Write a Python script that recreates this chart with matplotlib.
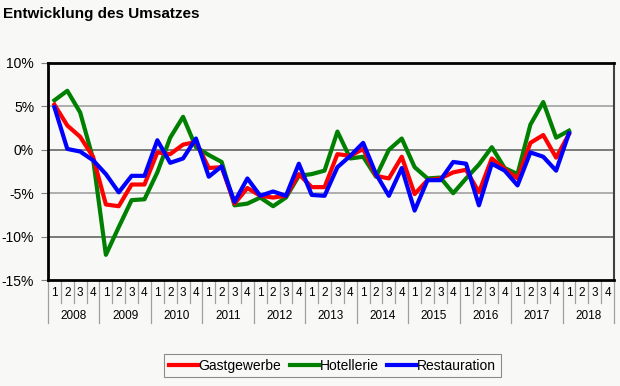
import matplotlib
matplotlib.use('Agg')  # no display
import matplotlib.pyplot as plt

plt.rcParams['font.family'] = ['Liberation Sans', 'DejaVu Sans']

# data: quarterly change in %, 2008Q1 .. 2018Q1
years = ['2008', '2009', '2010', '2011', '2012', '2013', '2014', '2015', '2016', '2017', '2018']
quarters = ['1', '2', '3', '4']

gastgewerbe = [5.2, 2.8, 1.5, -0.8, -6.3, -6.5, -4.0, -4.0, -0.3, -0.5, 0.6, 0.9,
               -2.1, -2.0, -6.2, -4.4, -5.3, -5.5, -5.3, -2.8, -4.3, -4.3, -0.5, -0.7,
               0.1, -3.0, -3.3, -0.8, -5.1, -3.5, -3.3, -2.6, -2.3, -4.9, -1.0, -2.2,
               -3.3, 0.8, 1.7, -0.9, 1.8]
hotellerie = [5.7, 6.8, 4.3, -1.0, -12.1, -8.9, -5.8, -5.7, -2.6, 1.4, 3.8, 0.3,
              -0.6, -1.4, -6.4, -6.2, -5.5, -6.5, -5.5, -3.0, -2.8, -2.4, 2.1, -1.0,
              -0.8, -3.1, 0.0, 1.3, -2.0, -3.3, -3.2, -5.0, -3.3, -1.7, 0.3, -2.1,
              -2.8, 2.9, 5.5, 1.4, 2.2]
restauration = [4.9, 0.1, -0.2, -1.2, -2.8, -4.9, -3.0, -3.0, 1.1, -1.5, -1.0, 1.3,
                -3.1, -1.9, -6.0, -3.3, -5.3, -4.8, -5.3, -1.6, -5.2, -5.3, -2.0, -0.7,
                0.8, -2.8, -5.3, -2.1, -7.0, -3.5, -3.5, -1.4, -1.6, -6.4, -1.6, -2.4,
                -4.1, -0.3, -0.8, -2.4, 1.9]

bg = '#f8f8f6'
fig = plt.figure(figsize=(6.2, 3.86), dpi=100, facecolor=bg)
ax = fig.add_axes([48/620, 1 - 280/386, 566/620, 217/386], facecolor=bg)

n = len(years) * len(quarters)
x = [i + 0.5 for i in range(len(gastgewerbe))]

# gridlines
for v, c in [(5, '#a8a8a8'), (0, '#707070'), (-5, '#a8a8a8'), (-10, '#707070')]:
    ax.axhline(v, color=c, lw=1.3, zorder=1)

ax.plot(x, gastgewerbe, color='#ff0000', lw=3, label='Gastgewerbe', zorder=3)
ax.plot(x, hotellerie, color='#008000', lw=3, label='Hotellerie', zorder=2)
ax.plot(x, restauration, color='#0000ff', lw=3, label='Restauration', zorder=4)

ax.set_xlim(0, n)
ax.set_ylim(-15, 10)
ax.set_yticks([-15, -10, -5, 0, 5, 10])
ax.set_yticklabels(['-15%', '-10%', '-5%', '0%', '5%', '10%'], fontsize=10)
ax.tick_params(axis='y', length=5, color='#808080', pad=5)
ax.set_xticks([])

for side in ['top', 'left', 'bottom']:
    ax.spines[side].set_linewidth(2)
    ax.spines[side].set_color('black')
ax.spines['right'].set_linewidth(1.5)
ax.spines['right'].set_color('#404040')

# two-level category axis
tr = ax.get_xaxis_transform()
for i in range(n):
    ax.text(i + 0.5, -0.06, quarters[i % 4], transform=tr, ha='center', va='center', fontsize=8.5)
    if i > 0 and i % 4 != 0:
        ax.plot([i, i], [0, -0.106], transform=tr, color='#a0a0a0', lw=0.9, clip_on=False)
for j, y in enumerate(years):
    ax.text(j * 4 + 2, -0.166, y, transform=tr, ha='center', va='center', fontsize=8.5)
for j in range(len(years) + 1):
    ax.plot([j * 4, j * 4], [0, -0.198], transform=tr, color='#a0a0a0', lw=0.9, clip_on=False)

fig.text(3/620, 1 - 14/386, 'Entwicklung des Umsatzes', fontsize=11, fontweight='bold',
         ha='left', va='center')

leg = fig.legend(loc='center', bbox_to_anchor=(0.536, 0.053), ncol=3, fontsize=10,
                 frameon=True, fancybox=False, edgecolor='#707070', facecolor=bg,
                 handlelength=2.1, handletextpad=0.05, columnspacing=0.6,
                 borderpad=0.35, borderaxespad=0)
leg.get_frame().set_linewidth(0.8)

fig.savefig('out.png', dpi=100, facecolor=bg)
